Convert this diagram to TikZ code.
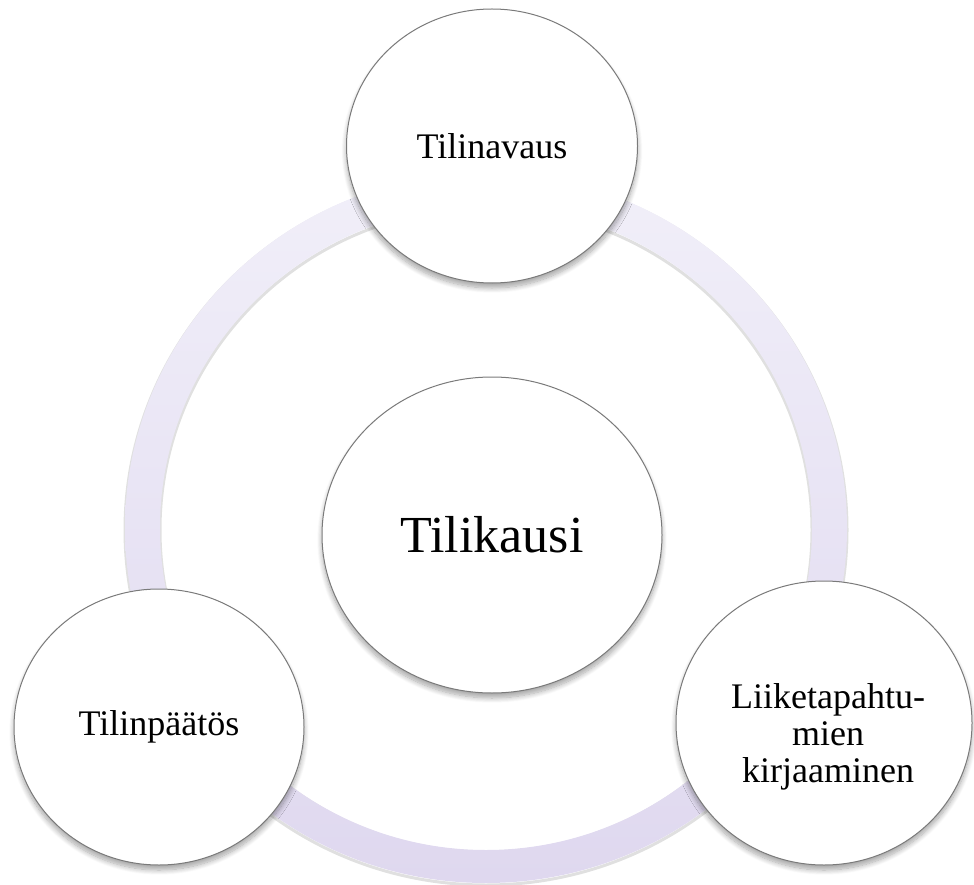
\documentclass[tikz,border=0pt]{standalone}
\usepackage{fontspec}
\setmainfont{Liberation Serif}
\usetikzlibrary{shapes.geometric,shadows.blur}
\definecolor{ringtop}{HTML}{F1EFF9}
\definecolor{ringbot}{HTML}{DFD8EF}
\definecolor{edgegray}{HTML}{7A7A7A}
\tikzset{
  bubble/.style={ellipse, draw=edgegray, line width=1pt, fill=white, inner sep=0pt, align=center,
    blur shadow={shadow xshift=0pt, shadow yshift=-5pt, shadow blur radius=5pt, shadow blur steps=10, shadow opacity=35}},
  outertext/.style={font=\fontsize{36}{37}\selectfont},
  centertext/.style={font=\fontsize{52}{54}\selectfont},
  ringstyle/.style={even odd rule, top color=ringtop, bottom color=ringbot},
  ringshadow/.style={draw=black, opacity=0.12, line width=3pt}
}
\begin{document}
\begin{tikzpicture}[x=1pt,y=-1pt]
\useasboundingbox (0,0) rectangle (974,885);
\coordinate (rc) at (486,528);
\coordinate (rs) at (486,530);
\path[ringshadow] (rs) ellipse [x radius=361, y radius=355] (rs) ellipse [x radius=326, y radius=322];
\path[ringstyle] (rc) ellipse [x radius=361, y radius=355] (rc) ellipse [x radius=326, y radius=322];
\node[bubble, centertext, minimum width=340pt, minimum height=316pt] (center) at (492,535) {Tilikausi};
\node[bubble, outertext, minimum width=291pt, minimum height=274pt] (open) at (492,146) {Tilinavaus};
\node[bubble, outertext, minimum width=290pt, minimum height=276pt] (close) at (159,727) {Tilinpäätös};
\node[bubble, minimum width=296pt, minimum height=284pt] (book) at (824,723) {};
\node[outertext, align=center, inner sep=0pt] (booktext) at (828,737) {Liiketapahtu-\\mien\\kirjaaminen};
\end{tikzpicture}
\end{document}
